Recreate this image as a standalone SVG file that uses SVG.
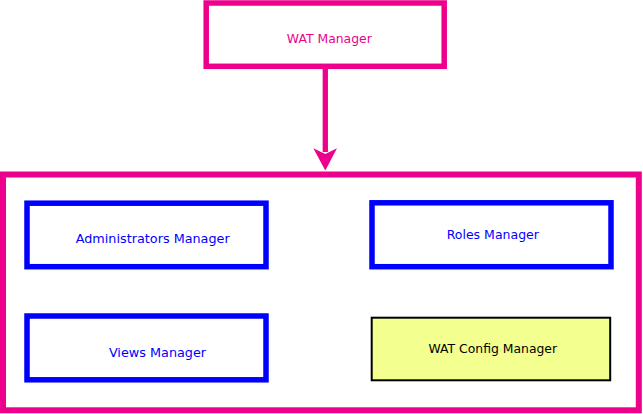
<svg xmlns="http://www.w3.org/2000/svg" width="643" height="414" viewBox="0 0 643 414">
<style>
.pink{fill:none;stroke:#ec008c}
.blue{fill:none;stroke:#0000ff;stroke-width:5.5}
.lbl{font-family:"DejaVu Sans",sans-serif;text-anchor:middle}
.bt{fill:#0000ff}
</style>
<rect width="643" height="414" fill="#ffffff"/>
<g id="connectors">
<line x1="325.3" y1="68" x2="325.3" y2="152" stroke="#ec008c" stroke-width="5.3"/>
<polygon points="313.3,148.3 325.3,154 337,148.3 325.3,170.5" fill="#ec008c"/>
</g>
<g id="wat-manager">
<rect class="pink" x="206.2" y="3" width="238" height="63.3" stroke-width="5.5"/>
<text class="lbl" x="329.3" y="43.3" font-size="12.4" fill="#ec008c">WAT Manager</text>
</g>
<g id="container">
<rect class="pink" x="3" y="174.5" width="635.8" height="235.8" stroke-width="6"/>
</g>
<g id="administrators-manager">
<rect class="blue" x="27" y="203.2" width="239" height="63.5"/>
<text class="lbl bt" x="152.7" y="243" font-size="12.8">Administrators Manager</text>
</g>
<g id="roles-manager">
<rect class="blue" x="372" y="202.8" width="239" height="63.9"/>
<text class="lbl bt" x="492.8" y="239" font-size="12.5">Roles Manager</text>
</g>
<g id="views-manager">
<rect class="blue" x="27" y="316" width="239" height="63.8"/>
<text class="lbl bt" x="157.5" y="356.7" font-size="12.8">Views Manager</text>
</g>
<g id="wat-config-manager">
<rect x="371.7" y="317.7" width="238.5" height="62.6" fill="#f3ff8e" stroke="#000000" stroke-width="2"/>
<text class="lbl" x="492.8" y="352.5" font-size="12.4" fill="#000000">WAT Config Manager</text>
</g>
</svg>
